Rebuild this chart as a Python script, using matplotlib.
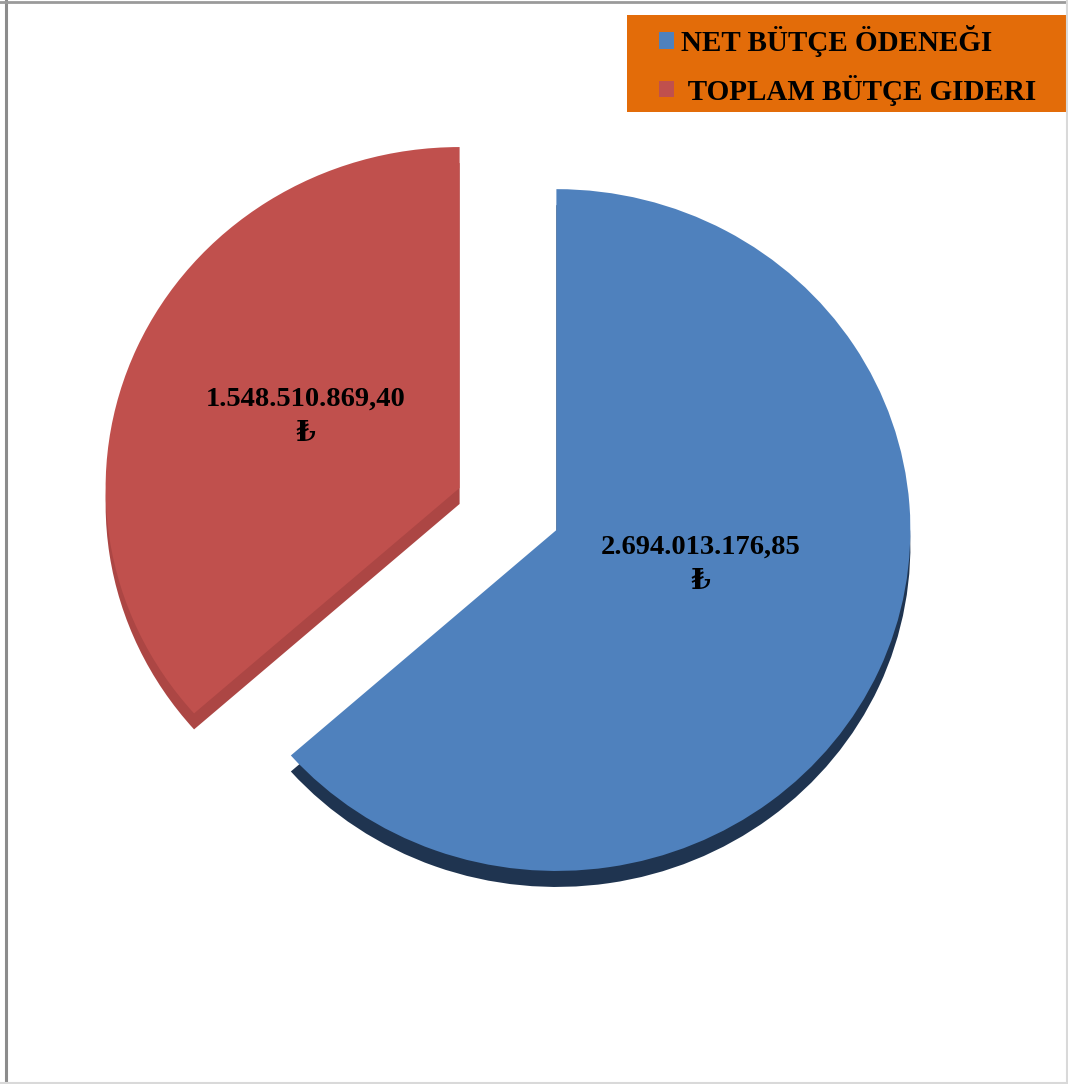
import matplotlib
matplotlib.use("Agg")
import matplotlib.pyplot as plt
from matplotlib.lines import Line2D
from matplotlib.patches import Rectangle

# Budget figures (TL)
labels = ["NET BÜTÇE ÖDENEĞI", " TOPLAM BÜTÇE GIDERI"]
values = [2694013176.85, 1548510869.40]
top_colors = ["#4F81BD", "#C0504D"]
side_colors = ["#1F3450", "#AC4644"]

W, H = 1068, 1084
SQ = 0.963          # vertical squash for the tilted look
depth = 16          # pixel thickness of the pie
R = 354

fig = plt.figure(figsize=(W / 100, H / 100), dpi=100)
ax = fig.add_axes([0, 0, 1, 1])

cx, cy = 508, (H - 509) / SQ
serif = ["Liberation Serif", "DejaVu Serif"]


def tl(v):
    s = f"{v:,.2f}"
    return s.replace(",", "#").replace(".", ",").replace("#", ".") + "\n₺"


# explode is in data units, so scale it by the radius
common = dict(startangle=90, counterclock=False, radius=R,
              explode=[0.15 * R, 0.15 * R], frame=True,
              wedgeprops=dict(linewidth=0, antialiased=True))

# side of the slab, shifted down
ax.pie(values, colors=side_colors, center=(cx, cy - depth / SQ), **common)

# top face with value labels
wedges, _, autotexts = ax.pie(values, colors=top_colors, center=(cx, cy),
                              autopct="", pctdistance=0.46, **common)
for t, v in zip(autotexts, values):
    t.set_text(tl(v))
    t.set_fontfamily(serif)
    t.set_fontweight("bold")
    t.set_fontsize(20.5)
    t.set_linespacing(1.55)
# nudge the labels a little
lx, ly = autotexts[0].get_position()
autotexts[0].set_position((lx - 4, ly + 30 / SQ))
lx, ly = autotexts[1].get_position()
autotexts[1].set_position((lx - 6, ly + 7 / SQ))

ax.set_aspect("auto")
ax.set_xlim(0, W)
ax.set_ylim(0, H / SQ)
ax.axis("off")

# orange legend box
ax.add_patch(Rectangle((627 / W, 1 - 112 / H), (W - 627) / W, 97 / H,
                       transform=fig.transFigure, facecolor="#E36C09",
                       edgecolor="none", zorder=4, clip_on=False))
leg = ax.legend(wedges, labels, loc="upper left",
                bbox_to_anchor=(659 / W, 1 - 25 / H), bbox_transform=fig.transFigure,
                borderaxespad=0, borderpad=0, frameon=False,
                prop=dict(family=serif, weight="bold", size=21),
                handlelength=0.5, handleheight=0.5, handletextpad=0.25,
                labelspacing=0.6)
leg.set_zorder(6)

# outer border of the chart area
fig.add_artist(Line2D([6 / W, 6 / W], [0, 1], transform=fig.transFigure,
                      color="#8C8C8C", lw=2.2))
fig.add_artist(Line2D([0, 1], [1 - 1.5 / H, 1 - 1.5 / H], transform=fig.transFigure,
                      color="#9A9A9A", lw=2))
fig.add_artist(Line2D([0, 1], [1 / H, 1 / H], transform=fig.transFigure,
                      color="#D9D9D9", lw=1.5))
fig.add_artist(Line2D([1 - 1.5 / W, 1 - 1.5 / W], [0, 1], transform=fig.transFigure,
                      color="#D9D9D9", lw=1.5))

fig.savefig("out.png", dpi=100)
